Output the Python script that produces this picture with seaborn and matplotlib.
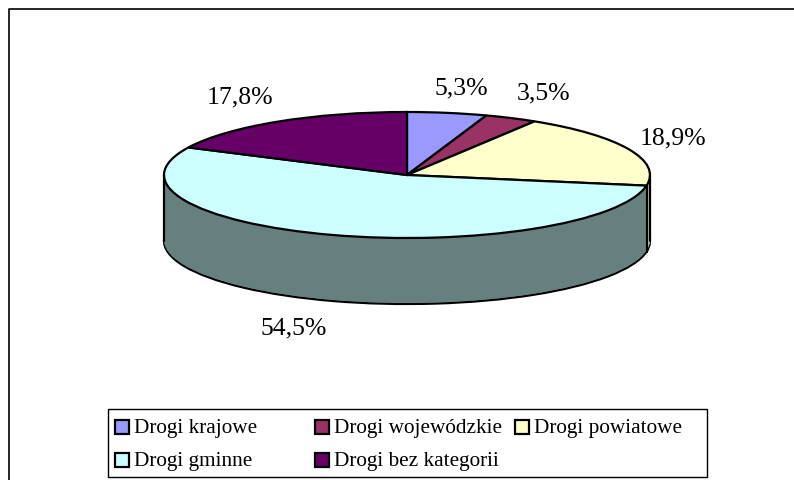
import numpy as np
import seaborn as sns
import matplotlib.pyplot as plt
from matplotlib.patches import Rectangle
from matplotlib.transforms import Affine2D

categories = ["Drogi krajowe", "Drogi wojewódzkie", "Drogi powiatowe", "Drogi gminne", "Drogi bez kategorii"]
values = [5.3, 3.5, 18.9, 54.5, 17.8]
labels = ["5,3%", "3,5%", "18,9%", "54,5%", "17,8%"]
colors = ["#9999FF", "#993366", "#FFFFCC", "#CCFFFF", "#660066"]
side_colors = ["#666699", "#662244", "#CFCFA6", "#668080", "#330033"]

sns.set_theme(style="white")
plt.rcParams["font.family"] = ["Liberation Serif", "DejaVu Serif"]

W, H = 794, 480
fig = plt.figure(figsize=(W / 100, H / 100), dpi=100)
ax = fig.add_axes([0, 0, 1, 1])

cx, cy, rx, ry, depth = 407, 175, 243, 63, 66
lw = 1.6

# side of the cake: same pie repeated downwards, top pie goes last
# y axis is inverted, so counterclock here reads clockwise on screen
for d in range(depth, 0, -1):
    edge = "black" if d == depth else "none"
    ax.pie(values, startangle=-90, counterclock=True, colors=side_colors,
           center=(cx, cy + d), radius=1, normalize=True,
           wedgeprops=dict(edgecolor=edge, linewidth=lw))
ax.pie(values, startangle=-90, counterclock=True, colors=colors,
       center=(cx, cy), radius=1, normalize=True,
       wedgeprops=dict(edgecolor="black", linewidth=lw))

# pie is drawn with radius 1, so squash it by scaling every patch around its centre
for p in ax.patches:
    c = p.center
    p.set_transform(Affine2D().translate(-c[0], -c[1]).scale(rx, ry).translate(c[0], c[1]) + ax.transData)

ax.set_aspect("auto")
ax.set_xlim(0, W)
ax.set_ylim(H, 0)
ax.axis("off")

# side outlines
ax.plot([cx - rx, cx - rx], [cy, cy + depth], color="black", lw=lw)
ax.plot([cx + rx, cx + rx], [cy, cy + depth], color="black", lw=lw)
# edge between yellow and cyan slices on the side
a = np.deg2rad(sum(values[:3]) / sum(values) * 360)
sx, sy = cx + rx * np.sin(a), cy - ry * np.cos(a)
ax.plot([sx, sx], [sy, sy + depth], color="black", lw=lw)

# value labels
label_pos = [(461, 88), (544, 93), (673, 138), (294, 328), (239.5, 97)]
for txt, (x, y) in zip(labels, label_pos):
    ax.text(x, y, txt, fontsize=18.5, ha="center", va="center", color="black")

# chart frame, only left and top edges are inside the picture
ax.plot([9, 9, W], [H, 9, 9], color="black", lw=1.2)

# legend box, columns are not evenly packed so it is placed by hand
ax.add_patch(Rectangle((107.5, 409), 599.5, 68, facecolor="white", edgecolor="black", lw=1.0))
legend_x = [114.5, 314.5, 514.5, 114.5, 314.5]
legend_y = [426.5, 426.5, 426.5, 459.5, 459.5]
for name, col, x, y in zip(categories, colors, legend_x, legend_y):
    ax.add_patch(Rectangle((x, y - 7), 14, 14, facecolor=col, edgecolor="black", lw=lw))
    ax.text(x + 19.5, y + 2, name, fontsize=15.3, ha="left", va="center", color="black")

fig.savefig("out.png", dpi=100, facecolor="white")
